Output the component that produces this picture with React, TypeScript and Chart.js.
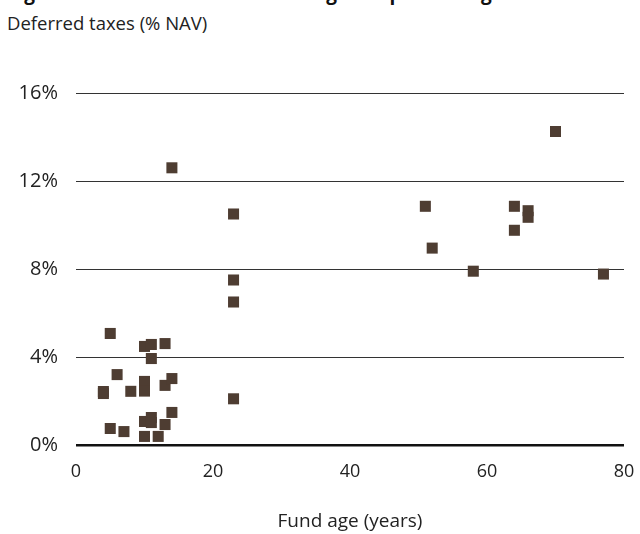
import React, { useEffect, useRef } from "react";
import { Chart, registerables } from "chart.js";

Chart.register(...registerables);

const titleText = "Figure 2: Deferred taxes increasing with product age";
const subtitleText = "Deferred taxes (% NAV)";
const xAxisTitle = "Fund age (years)";

const fundAges = [4, 4, 5, 5, 6, 7, 8, 10, 10, 10, 10, 10, 11, 11, 11, 11, 12, 13, 13, 13, 14, 14, 14, 23, 23, 23, 23, 51, 52, 58, 64, 64, 66, 66, 70, 77];
const deferredTaxes = [2.43, 2.34, 5.07, 0.75, 3.2, 0.61, 2.44, 4.48, 2.89, 2.45, 1.07, 0.39, 4.57, 3.93, 1.25, 1.02, 0.39, 4.61, 2.71, 0.93, 12.6, 3.02, 1.48, 10.5, 7.5, 6.5, 2.1, 10.85, 8.95, 7.9, 10.85, 9.76, 10.65, 10.35, 14.25, 7.77];

const xTicks = [0, 20, 40, 60, 80];
const yTicks = [0, 4, 8, 12, 16];

const FONT = "'Open Sans', 'DejaVu Sans', sans-serif";

export default function App() {
  const ref = useRef<HTMLCanvasElement | null>(null);

  useEffect(() => {
    if (!ref.current) return;
    const points = fundAges.map((a, i) => ({ x: a, y: deferredTaxes[i] }));
    const chart = new Chart(ref.current, {
      type: "scatter",
      data: {
        datasets: [
          {
            data: points,
            pointStyle: "rect",
            pointRadius: 7.8,
            pointHoverRadius: 7.8,
            backgroundColor: "#4e3d32",
            borderColor: "#4e3d32",
            borderWidth: 0,
          },
        ],
      },
      options: {
        animation: false,
        responsive: false,
        maintainAspectRatio: false,
        layout: { padding: { top: 33, right: 16, left: 0, bottom: 0 } },
        plugins: { legend: { display: false }, tooltip: { enabled: false } },
        scales: {
          x: {
            type: "linear",
            min: xTicks[0],
            max: xTicks[xTicks.length - 1],
            afterBuildTicks: (s: any) => {
              s.ticks = xTicks.map((v) => ({ value: v }));
            },
            afterFit: (s: any) => {
              s.height = 89;
              s.paddingLeft = 0;
              s.paddingRight = 0;
            },
            grid: { display: false, drawTicks: false },
            border: { display: false },
            ticks: {
              padding: 16,
              color: "#222",
              font: { family: FONT, size: 18 },
              callback: (v: any) => String(v),
            },
            title: {
              display: true,
              text: xAxisTitle,
              color: "#222",
              font: { family: FONT, size: 19 },
              padding: { top: 0, bottom: 1 },
            },
          },
          y: {
            type: "linear",
            min: yTicks[0],
            max: yTicks[yTicks.length - 1],
            afterBuildTicks: (s: any) => {
              s.ticks = yTicks.map((v) => ({ value: v }));
            },
            afterFit: (s: any) => {
              s.width = 76;
            },
            grid: {
              drawTicks: false,
              color: (ctx: any) => (ctx.tick && ctx.tick.value === 0 ? "#111" : "#333"),
              lineWidth: (ctx: any) => (ctx.tick && ctx.tick.value === 0 ? 2.5 : 1),
            },
            border: { display: false },
            ticks: {
              padding: 18,
              color: "#222",
              font: { family: FONT, size: 20 },
              callback: (v: any) => v + "%",
            },
          },
        },
      },
    });
    return () => chart.destroy();
  }, []);

  return (
    <div
      style={{
        position: "fixed",
        left: 0,
        top: 0,
        width: 640,
        height: 534,
        overflow: "hidden",
        background: "#fff",
      }}
    >
      <div
        style={{
          position: "absolute",
          left: 8,
          top: -19,
          fontFamily: FONT,
          fontWeight: 700,
          fontSize: 19,
          color: "#111",
          whiteSpace: "nowrap",
          lineHeight: "24px",
        }}
      >
        {titleText}
      </div>
      <div
        style={{
          position: "absolute",
          left: 7,
          top: 8,
          fontFamily: FONT,
          fontSize: 18.5,
          color: "#222",
          whiteSpace: "nowrap",
          lineHeight: "30px",
        }}
      >
        {subtitleText}
      </div>
      <canvas
        ref={ref}
        width={640}
        height={474}
        style={{ position: "absolute", left: 0, top: 60, width: 640, height: 474 }}
      />
    </div>
  );
}
